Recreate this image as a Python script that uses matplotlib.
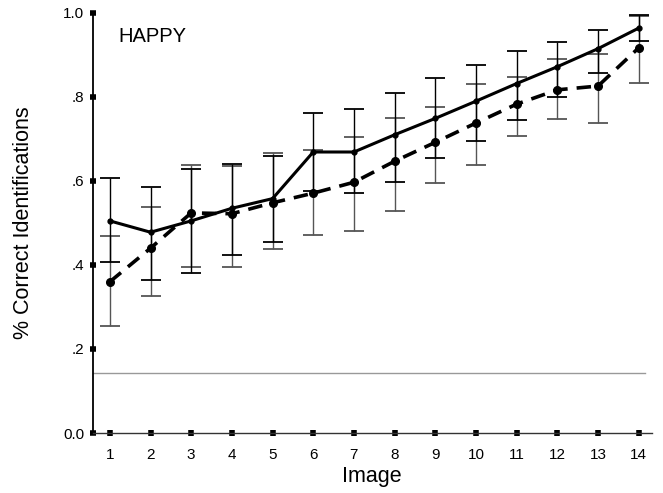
import numpy as np
import matplotlib
matplotlib.use('Agg')
import matplotlib.pyplot as plt

plt.rcParams['font.family'] = ['Liberation Sans', 'DejaVu Sans']

# Datos (proporcion de identificaciones correctas)
imagenes = np.arange(1, 15)
continua = [0.505, 0.478, 0.505, 0.535, 0.558, 0.669, 0.669, 0.71, 0.749, 0.79, 0.832, 0.872, 0.915, 0.964]
continua_sup = [0.607, 0.586, 0.629, 0.640, 0.660, 0.762, 0.771, 0.81, 0.845, 0.876, 0.91, 0.931, 0.96, 0.995]
continua_inf = [0.407, 0.364, 0.381, 0.424, 0.455, 0.576, 0.571, 0.598, 0.655, 0.695, 0.745, 0.80, 0.857, 0.933]
discontinua = [0.36, 0.44, 0.524, 0.522, 0.548, 0.571, 0.597, 0.647, 0.692, 0.738, 0.783, 0.817, 0.826, 0.917]
discontinua_sup = [0.469, 0.538, 0.638, 0.636, 0.667, 0.674, 0.705, 0.75, 0.776, 0.831, 0.848, 0.891, 0.902, 0.993]
discontinua_inf = [0.255, 0.326, 0.395, 0.395, 0.438, 0.471, 0.481, 0.529, 0.595, 0.638, 0.707, 0.748, 0.738, 0.833]
azar = 1 / 7
yticks = [0.0, 0.2, 0.4, 0.6, 0.8, 1.0]
ytick_labels = ['0.0', '.2', '.4', '.6', '.8', '1.0']

fig = plt.figure(figsize=(6.63, 4.93), dpi=100)
ax = fig.add_axes([0.140, 0.1217, 0.843, 0.852])

c = np.array(continua)
d = np.array(discontinua)

# Barras de error
ax.errorbar(imagenes, d, yerr=[d - np.array(discontinua_inf), np.array(discontinua_sup) - d],
            fmt='none', ecolor='#555555', elinewidth=1.0, capsize=7, capthick=1.3)
ax.errorbar(imagenes, c, yerr=[c - np.array(continua_inf), np.array(continua_sup) - c],
            fmt='none', ecolor='black', elinewidth=1.0, capsize=7, capthick=1.3)

# Lineas
ax.plot(imagenes, d, color='black', lw=2.6, linestyle=(0, (4, 2.5)),
        marker='o', markersize=5.5)
ax.plot(imagenes, c, color='black', lw=2.2, marker='o', markersize=3.5)

# Nivel de azar
ax.plot([0.58, 14.15], [azar, azar], color='#999999', lw=1.0)

ax.text(1.2, 0.931, 'HAPPY', fontsize=14.5, va='baseline')

ax.set_xlim(0.582, 14.32)
ax.set_ylim(0, 1.0)
ax.set_xticks(imagenes)
ax.set_yticks(yticks)
ax.set_yticklabels(ytick_labels)

for s in ['top', 'right']:
    ax.spines[s].set_visible(False)
ax.spines['left'].set_linewidth(1.3)
ax.spines['bottom'].set_linewidth(1.0)
ax.spines['bottom'].set_color('#333333')

ax.tick_params(axis='both', direction='inout', length=4, width=4, labelsize=11)
ax.tick_params(axis='x', pad=9)
ax.tick_params(axis='y', pad=4)

ax.set_xlabel('Image', fontsize=15.5, labelpad=3)
ax.set_ylabel('% Correct Identifications', fontsize=15.5, labelpad=21)

fig.savefig('out.png', dpi=100)
